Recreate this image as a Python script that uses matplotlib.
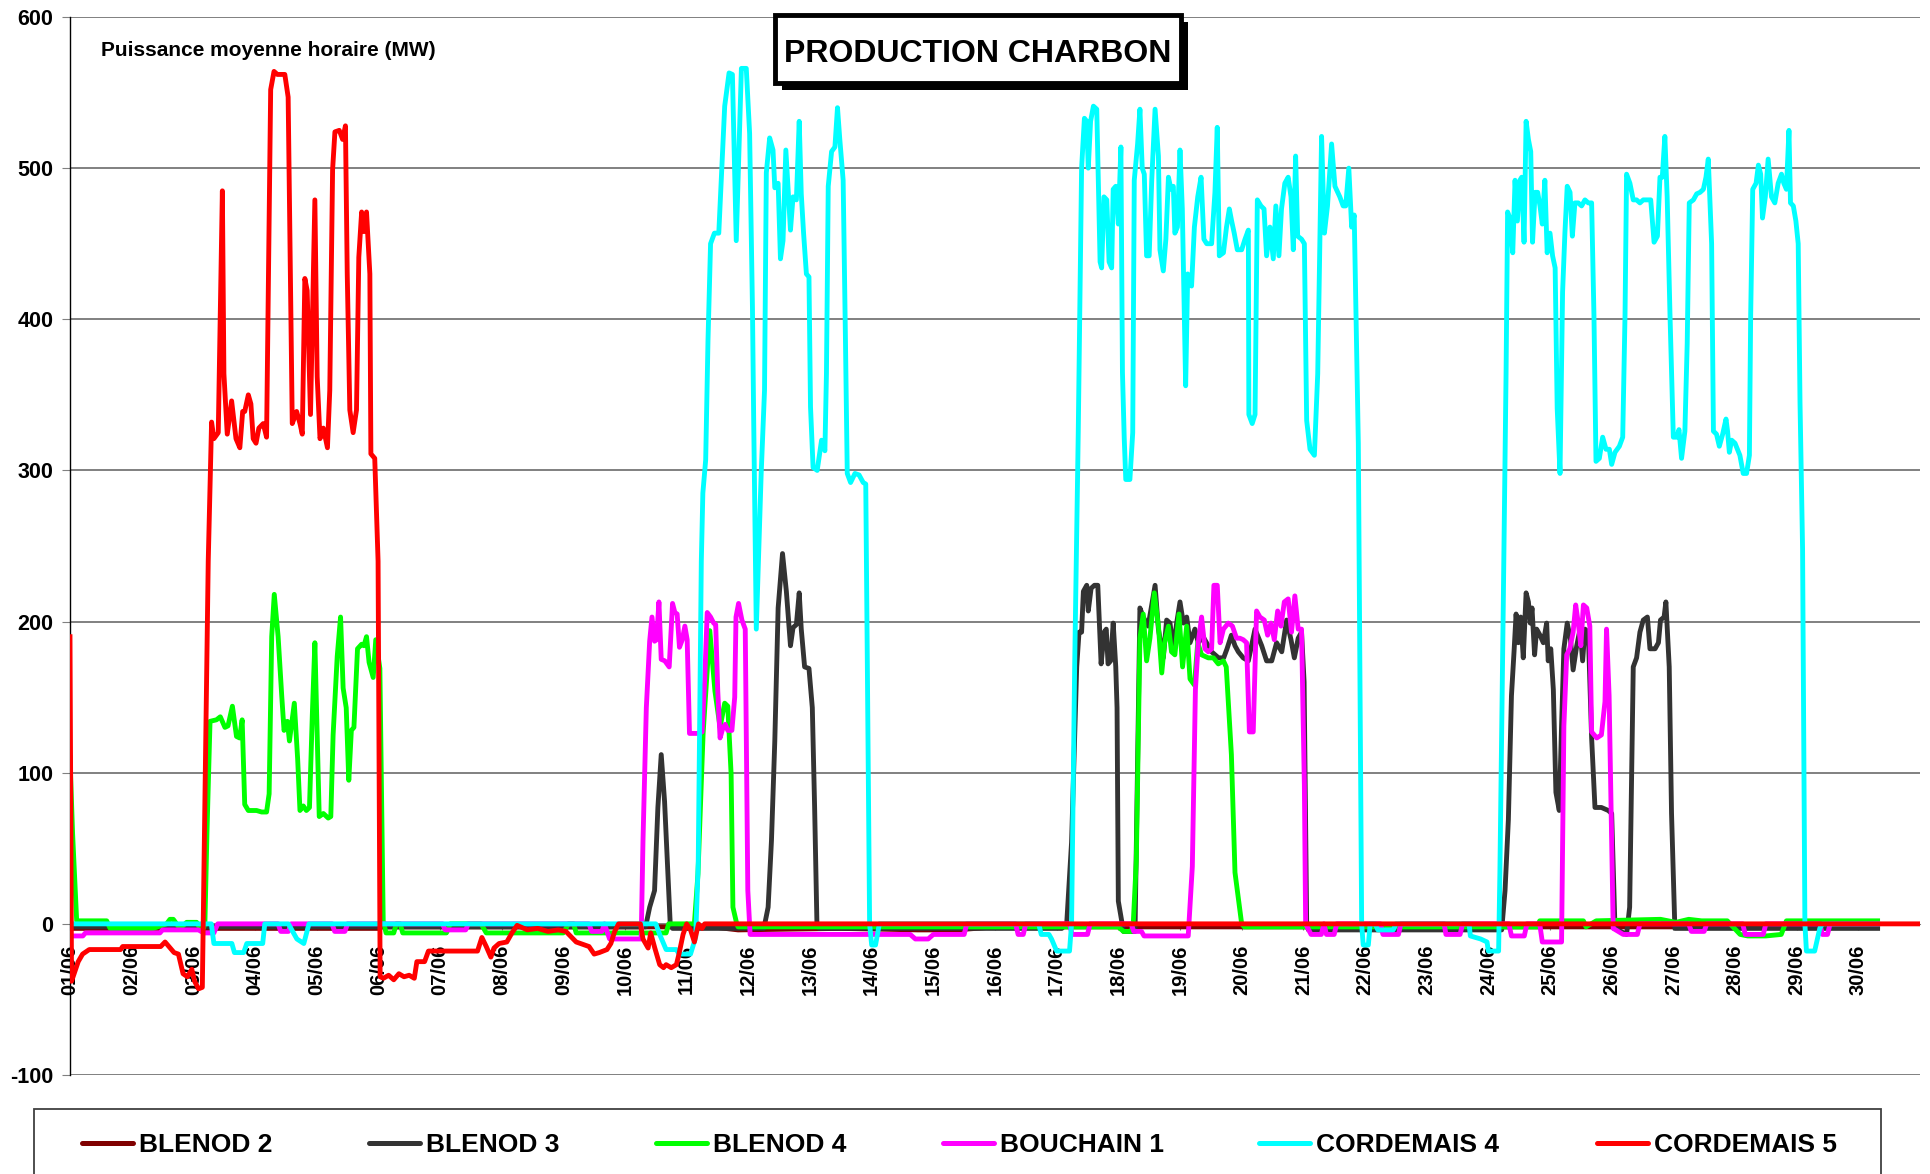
import matplotlib
matplotlib.use("Agg")
import matplotlib.pyplot as plt
from matplotlib.patches import Rectangle
from matplotlib.lines import Line2D

plt.rcParams["font.family"] = ["Liberation Sans", "DejaVu Sans"]
plt.rcParams["font.weight"] = "bold"
plt.rcParams["axes.unicode_minus"] = False

# --- data: hourly mean power (MW), hours counted from 01/06 00:00 ---
day_labels = [f"{d:02d}/06" for d in range(1, 31)]

blenod2_h = [0, 120, 121, 250, 260, 300, 330, 345, 360, 703.5]
blenod2_mw = [-3, -3, -2, -2, -4, -3, -4, -4, -2, -2]

blenod3_h = [0, 224, 225.6, 227.5, 228.8, 230.1, 231.4, 232.7, 233.6, 234.5,
             270, 270.4, 271.7, 273, 274.3, 275.6, 277.3, 278.8, 280.4, 281.4,
             282.7, 283.8, 284.6, 285.9, 287.6, 288.9, 289.8, 290.7, 291.5,
             386, 387.9, 389.8, 391.8, 392.7, 393.7, 394.4, 395.7, 396.3, 397.4,
             398.7, 400, 401.3, 402.5, 403.3, 404, 405, 406, 407, 407.5, 408,
             410, 414.5, 416.4, 417.7, 419.6, 422.3, 423.6, 425.5, 426.8, 428.1,
             429.4, 430.7, 432, 433.3, 434.6, 435.9, 437.8, 439.1, 441, 444.3,
             447, 449, 450.3, 452, 453.4, 454.7, 456.6, 458.6, 461.2, 463.8,
             465.7, 467.7, 469.6, 471.6, 473.5, 475.2, 476.5, 478, 479.3, 480.3,
             481.3, 482, 557.2, 558.5, 559.8, 561, 562, 562.8, 563.7, 564.6,
             565.6, 566.7, 567.6, 568.3, 569, 570, 570.8, 572.1, 573.4, 574.7,
             575.3, 576.3, 577.3, 578.3, 579.6, 580.5, 581.4, 582.7, 584, 585,
             586.4, 587.7, 588.7, 589.6, 590.9, 592.2, 593.5, 596, 598.7, 600,
             601.3, 605.8, 607, 608.4, 609.7, 611, 612.3, 613.9, 614.9, 616.9,
             618.2, 619, 620.4, 621.1, 622.4, 623.3, 624.6, 703.5]
blenod3_mw = [-2, -2, 11, 22, 77, 112, 81, 33, 0, -3,
              -3, 0, 11, 55, 121, 209, 245, 220, 184, 196,
              198, 219, 195, 170, 169, 143, 77, 0, -3,
              -3, 0, 54, 170, 193, 193, 220, 224, 207, 222,
              224, 224, 172, 193, 195, 172, 174, 199, 170, 143, 15,
              -5, -5, 209, 203, 197, 224, 195, 176, 201, 199,
              182, 199, 213, 199, 203, 186, 195, 186, 190, 180,
              176, 176, 182, 191, 184, 180, 176, 174, 195, 184,
              174, 174, 186, 180, 201, 188, 176, 189, 193, 160,
              0, -4, -4, 22, 69, 151, 180, 205, 186, 203,
              176, 219, 213, 199, 209, 178, 195, 191, 186, 199,
              174, 182, 155, 87, 75, 131, 182, 199, 188, 168,
              184, 195, 174, 195, 193, 123, 77, 77, 75, 73,
              -3, -7, 11, 170, 176, 193, 201, 203, 182, 182,
              186, 201, 203, 213, 170, 73, -3, -3]

blenod4_h = [0, 1, 2.6, 14.3, 15.6, 18.1, 20.7, 32.4, 37.6, 38.9, 40.2, 42.8,
             45.4, 49.3, 50.6, 51.9, 52.5, 53.3, 54.5, 57, 58.5, 60.3, 61.5,
             63.2, 64.8, 66, 67, 68, 69.4, 72.6, 74.6, 76.5, 77.5, 78.5, 79.5,
             81, 82.4, 83.3, 84.6, 85.4, 87.3, 88.6, 89.5, 90.8, 92, 93.2, 94.3,
             95.3, 97, 98.6, 100.5, 101.5, 102.4, 104, 105.3, 106.3, 107.5,
             108.5, 109.5, 110.5, 111.9, 113.5, 114.4, 115.4, 116.4, 118, 119,
             120.6, 121.9, 123, 126, 127, 128.5, 129.5, 146.5, 148, 160, 162,
             192, 194, 196, 197, 232, 233, 243, 244.4, 246.4, 249, 251, 253,
             254.8, 256, 257.3, 258, 259.5, 260, 408, 410, 413, 413.8, 415,
             416.4, 417.7, 419, 420.3, 422, 423.6, 424.9, 426, 427.5, 428.7,
             430, 431.6, 433, 434.6, 435.9, 437.6, 438.9, 440.4, 443, 445,
             446.9, 448.9, 450, 452, 453.4, 456, 457, 571, 572, 582, 589, 590,
             594, 619, 625, 630, 635, 638, 645, 650, 653, 660, 666, 668, 703.5]
blenod4_mw = [110, 60, 2, 2, -3, -3, -3, -3, 0, 3, 3, -3,
              1, 1, -3, -3, 0, 60, 134, 135, 137, 130, 131,
              144, 124, 123, 135, 79, 75, 75, 74, 74, 86, 190, 218,
              190, 151, 128, 134, 121, 146, 109, 75, 78, 75, 77, 138,
              186, 71, 73, 70, 71, 125, 177, 203, 156, 143,
              95, 128, 130, 182, 185, 184, 190, 173, 163, 188,
              169, 2, -6, -6, 0, 0, -6, -6, 0, 0, -6,
              -6, 0, 0, -6, -6, 0, 0, 33, 126, 194, 154, 130,
              146, 144, 99, 11, 0, -2, -2, -5, -5, 0, 42,
              189, 205, 174, 189, 219, 197, 166, 186, 197, 180,
              178, 205, 170, 197, 162, 158, 186, 178, 176, 176,
              172, 174, 170, 112, 34, 0, -2, -2, 2, 2, 2, -2,
              2, 3, 1, 3, 2, 2, 2, -7, -8, -8, -7, 2, 2]

bouchain1_h = [0, 5, 6, 35, 36, 50, 52, 56, 57.5, 81, 82, 85, 86, 102, 103,
               107, 108, 145, 146, 154, 155, 202, 203, 207, 208, 210, 222.3,
               223, 224.3, 225.6, 226.5, 227.5, 228.3, 229.2, 230.1, 231.5,
               233.2, 234.5, 235.4, 236.3, 237.2, 238.3, 239.3, 240.2, 241.1,
               242.8, 244.7, 246, 247, 248, 249.3, 250.5, 251.3, 252.1, 253,
               254, 255, 256, 257.6, 258.7, 259.2, 260.2, 261.5, 262.8, 263.8,
               264.7, 327, 329, 334, 336, 348, 349, 368, 369, 371, 372, 389,
               390, 396, 397, 413, 414, 417, 418, 435.2, 436.8, 438, 439.1,
               440.4, 441.7, 443, 444.3, 445.2, 446.5, 447.6, 448.9, 450.8,
               452.4, 454, 455.3, 456.6, 457.9, 459, 460.5, 461.8, 463.1,
               464.8, 466.1, 467.4, 468.7, 470, 471.3, 472.6, 474.1, 475.4,
               476.7, 478, 479.3, 480.4, 480.9, 483, 487, 488, 489, 492, 493,
               510, 511, 517, 518, 534.8, 535.5, 541, 542, 560, 561, 566, 567,
               572, 573, 580.5, 581.4, 582.5, 583.7, 585, 586, 587, 588, 589,
               590.3, 591.5, 592.2, 594.2, 596, 597.4, 598, 599, 600, 600.6,
               604.5, 610, 611, 630, 631, 636, 637, 651, 652, 659, 660, 681,
               682, 684, 685, 703.5]
bouchain1_mw = [-8, -8, -6, -6, -4, -4, -6, -6, 0, 0, -5, -5, 0, 0, -5,
                -5, 0, 0, -4, -4, 0, 0, -5, -5, 0, -10, -10,
                55, 143, 187, 203, 187, 188, 213, 175, 174,
                170, 212, 206, 205, 183, 188, 197, 188, 126,
                126, 126, 127, 161, 206, 203, 199, 198, 154, 123,
                129, 132, 128, 128, 150, 203, 212, 201, 195, 22,
                -7, -7, -10, -10, -7, -7, 0, 0, -7, -7, 0, 0,
                -7, -7, 0, 0, -5, -5, -8, -8, 38, 155, 186,
                203, 182, 180, 182, 224, 224, 186, 195, 199,
                197, 189, 189, 188, 186, 127, 127, 207, 203,
                201, 191, 199, 188, 207, 197, 213, 215, 193,
                217, 195, 195, 92, 0, -7, -7, 0, -7, -7, 0,
                0, -7, -7, 0, 0, -7, -7, 0, 0, -8, -8, 0,
                0, -12, -12, 131, 178, 182, 193, 211, 199, 184, 211,
                209, 197, 127, 123, 125, 147, 195, 151, 54, -3,
                -7, -7, 0, 0, -5, -5, 0, 0, -7, -7, 0, 0,
                -7, -7, 0, 0]

cordemais4_h = [0, 55, 56, 63, 64, 67.6, 68.8, 75, 75.8, 85, 88.3, 91, 93,
                228, 229.5, 232, 236, 237, 241.5, 243.5, 244.5, 245.7, 246.3,
                247.4, 248.3, 249.3, 250.8, 252.5, 254.8, 256.5, 257.8, 259.3,
                261.3, 263.2, 264.5, 265.6, 266.1, 267.1, 269, 270.3, 271,
                272.3, 273.6, 274.3, 275.6, 276.5, 277.5, 278.6, 279.5, 280.4,
                281.4, 282.7, 283.8, 284.6, 285.5, 286.6, 287.6, 288.2, 289.2,
                290.8, 292.5, 293.8, 294.4, 295.1, 296.4, 297.7, 298.7, 299.6,
                300.9, 301.8, 302.5, 303.8, 305.5, 307.1, 308.7, 309.7, 311.2,
                312, 313.5, 315, 377, 378, 381, 382, 384, 389, 389.8, 391,
                392.4, 393.7, 394.8, 395.7, 396.3, 397.2, 398.3, 399.6, 400.9,
                401.5, 402.4, 403.5, 404.4, 405.4, 406, 407, 408, 409, 409.6,
                410.3, 410.9, 412.5, 413.6, 414.2, 415.5, 416.4, 417.3, 418.1,
                419, 420, 421, 422.3, 423.6, 424.2, 425.5, 426.5, 427.5, 428.5,
                429.4, 430, 431, 432, 432.9, 434.2, 435, 436.5, 437.6, 438.9,
                440.2, 441.3, 442.4, 444.3, 445.6, 446.5, 447.3, 448.9, 450.1,
                451.2, 452.1, 453.1, 454.3, 456, 457.3, 458.6, 458.8, 460.1,
                461.2, 462.1, 463.5, 464.7, 465.7, 467, 468.3, 469.3, 470.5,
                471.5, 472.8, 474.1, 475.2, 476.1, 477, 477.8, 479.3, 480.4,
                481.3, 482.6, 484.3, 485.6, 487.1, 488.2, 489.4, 491, 492.3,
                494.2, 495.5, 496.5, 497.7, 498.8, 499.8, 501.4, 502.7, 503.3,
                505.3, 506, 508, 509, 515, 516, 544.5, 545, 549, 551.5, 552, 556,
                556.5, 557.8, 558.9, 559.5, 560.4, 561.5, 562.4, 563.3, 564.3,
                565, 565.9, 566.7, 567.6, 568.5, 569.2, 570.2, 571.2, 572.1,
                573, 574, 574.9, 576, 577, 578, 578.8, 579.9, 580.9, 581.8,
                582.7, 583.8, 584.7, 585.7, 587, 588.3, 589.6, 590.9, 592.2,
                593.1, 593.9, 595.2, 596.5, 597.8, 599.1, 600, 601.3, 603,
                604.3, 605.2, 605.8, 607.1, 608.4, 609.7, 611, 612.3, 613.6,
                615.2, 616.5, 617.8, 618.8, 619.7, 620.7, 621.6, 622.7, 624,
                625.3, 626.2, 627.2, 628.5, 629.4, 630.2, 631.8, 633.1, 634.4,
                635.7, 636.7, 637.6, 638.9, 639.6, 640.8, 641.9, 643.2, 644.5,
                645.1, 645.8, 646.7, 648, 649.9, 651.2, 652.5, 653.6, 654.1,
                654.9, 656.2, 657.1, 658, 658.7, 659.8, 660.9, 662.2, 663.5,
                664.8, 666.1, 667, 668, 669, 669.6, 670.7, 671.7, 672.6, 673.3,
                674.3, 675.2, 675.8, 679, 681, 682, 703.5]
cordemais4_mw = [0, 0, -13, -13, -19, -19, -13, -13, 0, 0, -10, -13, 0,
                 0, -7, -17, -17, -20, -20, -9, 40, 240, 285,
                 307, 386, 450, 457, 457, 541, 563, 562, 452,
                 566, 566, 523, 408, 331, 195, 298, 353, 497,
                 520, 512, 487, 490, 440, 452, 512, 485, 459,
                 481, 479, 531, 483, 457, 430, 428, 342, 302,
                 300, 320, 313, 364, 488, 511, 514, 540, 519,
                 492, 386, 298, 292, 298, 297, 292, 291, 0,
                 -14, -14, 0, 0, -7, -7, -10, -18, -18, 0, 170,
                 325, 500, 533, 531, 500, 531, 541, 539, 438,
                 434, 481, 479, 438, 434, 486, 488, 463, 514, 365,
                 321, 294, 294, 325, 492, 516, 539, 500, 496,
                 442, 442, 492, 539, 508, 446, 432, 453, 494, 486,
                 488, 457, 461, 512, 473, 356, 430, 422, 461, 481,
                 494, 453, 450, 450, 484, 527, 442, 444, 461,
                 473, 465, 457, 446, 446, 453, 459, 337, 331,
                 337, 479, 475, 473, 442, 461, 440, 475, 442,
                 473, 490, 494, 481, 446, 508, 455, 453, 450,
                 333, 314, 310, 364, 521, 457, 475, 516, 488,
                 481, 475, 475, 500, 461, 469, 318, 0, -14,
                 -14, 0, 0, -4, -4, 0, 0, -8, -10, -12, -18, -18,
                 34, 209, 364, 471, 467, 444, 492, 465, 492,
                 494, 451, 531, 519, 511, 451, 484, 484, 475,
                 463, 492, 444, 457, 442, 434, 341, 298, 418, 457,
                 488, 484, 455, 477, 477, 475, 479, 477, 477,
                 403, 306, 308, 322, 314, 314, 304, 312, 316,
                 322, 403, 496, 490, 479, 479, 477, 479, 479,
                 479, 451, 455, 494, 494, 521, 481, 403, 322,
                 322, 327, 308, 326, 384, 477, 479, 483, 484,
                 486, 494, 506, 450, 326, 324, 316, 324, 334,
                 326, 312, 320, 318, 310, 298, 298, 310, 403,
                 486, 490, 502, 496, 467, 481, 506, 481, 477,
                 490, 496, 490, 486, 525, 477, 475, 465, 450, 345,
                 248, 0, -18, -18, -3, 0, 0]

cordemais5_h = [0, 0.6, 3.2, 4.9, 7.5, 19.7, 20.5, 35.3, 37, 40.5, 42.2, 44,
                45.7, 47.4, 48.5, 50, 51.5, 53.8, 55.1, 56, 57.7, 59.3, 59.9,
                61.2, 62.9, 64.6, 66.1, 67.2, 68, 69.4, 70.4, 71.3, 72.4, 73.5,
                75.2, 76.5, 78.1, 79.4, 80.7, 83.6, 84.9, 86.5, 88.2, 89.5,
                90.4, 91.4, 92.3, 93.6, 95.3, 96.2, 97.3, 98.6, 100.2, 101.1,
                102.2, 103.1, 104.8, 106.1, 107.2, 107.9, 108.9, 110.2, 111.5,
                112.4, 113.5, 114.4, 115.4, 116.7, 117.1, 118.6, 119.9, 120.7,
                122, 124, 126, 128, 130, 132, 134, 135, 138, 139.5, 141, 158.6,
                160.3, 162, 163.8, 165, 167, 170, 172, 174, 178, 182, 186, 190,
                193, 197, 202, 204, 206, 209, 210.5, 212, 213.5, 222, 223, 225,
                226, 227.6, 229.5, 231, 232, 234, 236, 237, 238.6, 240, 241.5,
                243, 244.6, 246, 247, 720]
cordemais5_mw = [190, -38, -25, -20, -17, -17, -15, -15, -12, -19, -20, -33,
                 -35, -30, -38, -43, -42, 240, 332, 321, 325, 485, 364,
                 324, 346, 321, 315, 339, 339, 350, 344, 321, 318, 328,
                 331, 322, 552, 564, 562, 562, 547, 331, 339, 331,
                 324, 427, 419, 337, 479, 362, 321, 328, 315, 353,
                 499, 524, 525, 519, 528, 430, 340, 325, 340,
                 441, 471, 458, 471, 430, 311, 308, 240, -35,
                 -36, -34, -37, -33, -35, -34, -36, -25, -25, -18, -18, -18,
                 -9, -15, -22, -16, -13, -12, -6, -1, -4, -3, -5, -4,
                 -5, -12, -15, -20, -19, -17, -13, -5, 0, 0, -10, -16,
                 -6, -16, -27, -29, -27, -29, -27, -20, -7, 0, -4,
                 -12, 0, -3, 0, 0]

series = [
    ("BLENOD 2", blenod2_h, blenod2_mw, "#800000"),
    ("BLENOD 3", blenod3_h, blenod3_mw, "#333333"),
    ("BLENOD 4", blenod4_h, blenod4_mw, "#00ff00"),
    ("BOUCHAIN 1", bouchain1_h, bouchain1_mw, "#ff00ff"),
    ("CORDEMAIS 4", cordemais4_h, cordemais4_mw, "#00ffff"),
    ("CORDEMAIS 5", cordemais5_h, cordemais5_mw, "#ff0000"),
]

# --- figure, laid out in pixels of the 1930x1174 canvas ---
W, H = 1930, 1174


def fx(px):
    return px / W


def fy(py):
    return 1 - py / H


fig = plt.figure(figsize=(W / 100, H / 100), dpi=100)
ax = fig.add_axes([fx(70), fy(1075), fx(1920) - fx(70), fy(17) - fy(1075)])

for name, hrs, mw, color in series:
    ax.plot(hrs, mw, color=color, lw=3.5, solid_joinstyle="round", zorder=3)

ax.set_xlim(0, 720)
ax.set_ylim(-100, 600)
ax.set_yticks(range(-100, 601, 100))
ax.set_xticks([d * 24 for d in range(len(day_labels))])
ax.set_xticklabels(day_labels)

ax.tick_params(axis="x", direction="out", length=4, color="#808080", pad=11,
               labelrotation=90, labelsize=14.5)
ax.tick_params(axis="y", direction="out", length=6, color="#808080", pad=6,
               labelsize=15.5)

ax.spines["bottom"].set_position(("data", 0))
ax.spines["bottom"].set_color("#808080")
ax.spines["top"].set_visible(False)
ax.spines["right"].set_visible(False)
ax.spines["left"].set_linewidth(1)
ax.grid(axis="y", color="#808080", lw=1.4)
ax.set_axisbelow(True)

# unit label
fig.text(fx(101), fy(56), "Puissance moyenne horaire (MW)", fontsize=15,
         va="baseline", ha="left")

# title box with drop shadow
fig.add_artist(Rectangle((fx(782), fy(90)), fx(406), 68 / H,
                         transform=fig.transFigure, fc="black", ec="none"))
fig.add_artist(Rectangle((fx(775), fy(83)), fx(406), 68 / H,
                         transform=fig.transFigure, fc="white", ec="black", lw=3.5))
fig.text(fx(978), fy(62.5), "PRODUCTION CHARBON", fontsize=23,
         ha="center", va="baseline")

# legend, drawn by hand to keep Excel's uneven spacing
fig.add_artist(Rectangle((fx(34), fy(1190)), fx(1881 - 34), 81 / H,
                         transform=fig.transFigure, fc="white", ec="#404040", lw=1.3))
legend_x = [82, 369, 656, 943, 1259, 1597]
for (name, _, _, color), lx in zip(series, legend_x):
    fig.add_artist(Line2D([fx(lx), fx(lx + 51)], [fy(1142.5), fy(1142.5)],
                          transform=fig.transFigure, color=color, lw=3.6,
                          solid_capstyle="round"))
    fig.text(fx(lx + 57), fy(1152.5), name, fontsize=19,
             ha="left", va="baseline")

fig.savefig("out.png", dpi=100)
